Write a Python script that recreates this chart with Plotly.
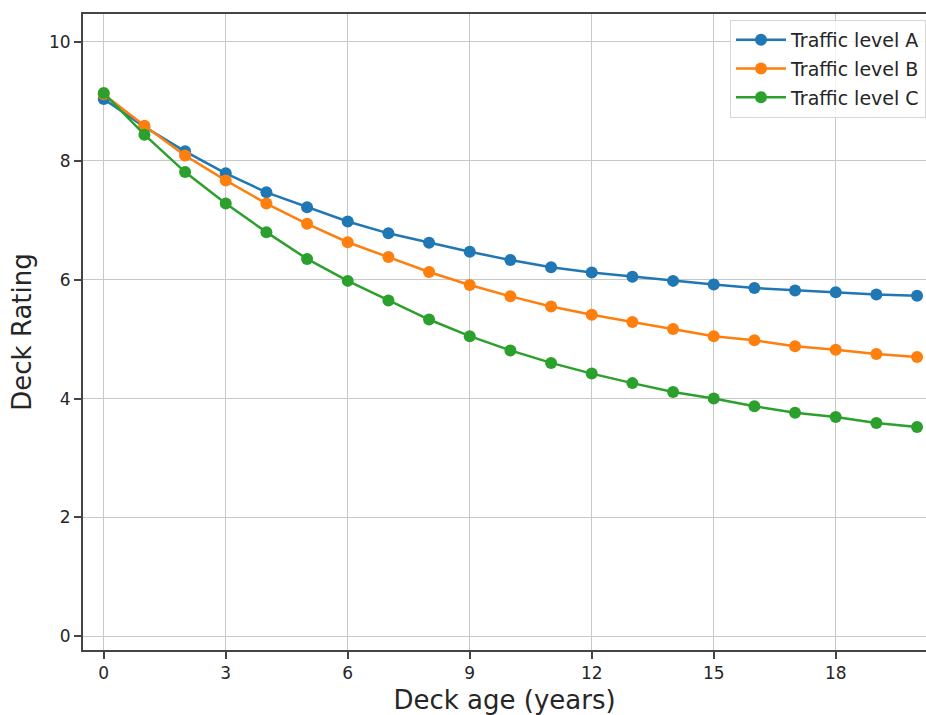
import plotly.graph_objects as go

age = list(range(0, 21))
traffic_a = [9.04, 8.57, 8.16, 7.79, 7.47, 7.22, 6.98, 6.78, 6.62, 6.47, 6.33, 6.21,
             6.12, 6.05, 5.98, 5.92, 5.86, 5.82, 5.79, 5.75, 5.73]
traffic_b = [9.12, 8.59, 8.09, 7.67, 7.28, 6.94, 6.63, 6.38, 6.13, 5.91, 5.72, 5.55,
             5.41, 5.29, 5.17, 5.05, 4.98, 4.88, 4.82, 4.75, 4.70]
traffic_c = [9.14, 8.44, 7.81, 7.28, 6.80, 6.35, 5.98, 5.65, 5.33, 5.05, 4.81, 4.60,
             4.42, 4.26, 4.11, 4.00, 3.87, 3.76, 3.69, 3.59, 3.52]
series_names = ["Traffic level A", "Traffic level B", "Traffic level C"]
colors = ["#1f77b4", "#ff7f0e", "#2ca02c"]
x_ticks = [0, 3, 6, 9, 12, 15, 18]
y_ticks = [0, 2, 4, 6, 8, 10]

fig = go.Figure()
for i, (name, vals, col) in enumerate(zip(series_names, [traffic_a, traffic_b, traffic_c], colors)):
    fig.add_trace(go.Scatter(
        x=age, y=vals, name=name, mode="lines+markers",
        line=dict(color=col, width=2.5),
        marker=dict(color=col, size=12),
        legendgroup=name,
    ))

FONT = "DejaVu Sans"
fig.update_layout(
    width=926, height=715,
    margin=dict(l=83, r=0, t=14, b=65, autoexpand=False),
    paper_bgcolor="white", plot_bgcolor="white",
    font=dict(family=FONT, color="#262626"),
    showlegend=True,
    legend=dict(
        x=(730 - 83) / 843, y=1 - (20 - 14) / 636, xanchor="left", yanchor="top",
        bgcolor="rgba(255,255,255,0.8)", bordercolor="#d6d6d6", borderwidth=1,
        font=dict(family=FONT, size=19, color="#262626"),
        tracegroupgap=1, traceorder="grouped", itemwidth=50,
    ),
    xaxis=dict(
        range=[-0.51, 20.22], tickmode="array", tickvals=x_ticks,
        showgrid=True, gridcolor="#c8c8c8", gridwidth=1.3,
        showline=True, linecolor="#444444", linewidth=2, mirror=True,
        ticks="outside", ticklen=7, tickwidth=1.5, tickcolor="#444444",
        tickfont=dict(size=17, family=FONT, color="#262626"),
        zeroline=False,
        title=dict(text="Deck age (years)", font=dict(size=26, family=FONT, color="#262626"), standoff=19),
    ),
    yaxis=dict(
        range=[-0.23, 10.47], tickmode="array", tickvals=y_ticks,
        showgrid=True, gridcolor="#c8c8c8", gridwidth=1.3,
        showline=True, linecolor="#444444", linewidth=2, mirror=False,
        ticks="outside", ticklen=7, tickwidth=1.5, tickcolor="#444444",
        tickfont=dict(size=17, family=FONT, color="#262626"),
        zeroline=False,
        title=dict(text="Deck Rating", font=dict(size=26, family=FONT, color="#262626"), standoff=10),
    ),
)

fig.write_html(
    "out.html",
    config={"displayModeBar": False},
    post_script="document.body.style.margin='0';document.body.style.overflow='hidden';",
)
